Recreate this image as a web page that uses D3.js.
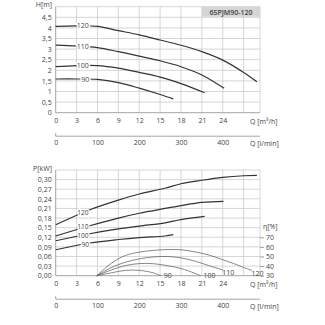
<!DOCTYPE html>
<html><head><meta charset="utf-8">
<script src="https://cdn.jsdelivr.net/npm/d3@7"></script>
<style>
body{margin:0;background:#fff}
svg{display:block}
text{font-family:"Open Sans","Liberation Sans",sans-serif;fill:#444}
</style>
</head><body>
<svg id="c" width="325" height="325"></svg>
<script>
// ---------- data ----------
const Q_TICKS = [0,3,6,9,12,15,18,21,24];
const Q_GRID = [3,6,9,12,15,18,21,24,27];
const LMIN_TICKS = [0,100,200,300,400];
const H_TICKS = [0,0.5,1,1.5,2,2.5,3,3.5,4,4.5];
const P_TICKS = [0,0.03,0.06,0.09,0.12,0.15,0.18,0.21,0.24,0.27,0.30];
const ETA_TICKS = [30,40,50,60,70];
const SPEEDS = ["90","100","110","120"];
const TITLE = "65PJM90-120";

// head curves [Q m3/h, H m]
const H90  = [[0,1.59],[3,1.59],[6,1.57],[9,1.42],[12,1.16],[15,0.86],[16.9,0.65]];
const H100 = [[0,2.17],[3,2.22],[6,2.22],[9,2.1],[12,1.9],[15,1.68],[18,1.37],[21.4,0.94]];
const H110 = [[0,3.19],[3,3.15],[6,3.07],[9,2.88],[12,2.67],[15,2.45],[18,2.17],[21,1.78],[24.2,1.15]];
const H120 = [[0,4.07],[3,4.1],[6,4.07],[9,3.87],[12,3.67],[15,3.43],[18,3.18],[21,2.88],[24,2.48],[27,1.9],[28.9,1.46]];

// power curves [Q m3/h, P kW]
const P90  = [[0,0.081],[4.9,0.102],[9,0.113],[12,0.119],[15.7,0.124],[16.9,0.128]];
const P100 = [[0,0.109],[4.9,0.131],[9,0.146],[12,0.155],[15.7,0.165],[18,0.175],[21.4,0.185]];
const P110 = [[0,0.124],[4.9,0.156],[9,0.180],[12,0.195],[15.7,0.210],[18,0.219],[21,0.229],[24.1,0.232]];
const P120 = [[0,0.159],[4.9,0.206],[9,0.236],[12,0.255],[15.7,0.273],[18,0.287],[21,0.298],[24,0.307],[27,0.312],[28.9,0.313]];

// efficiency curves [Q m3/h, eta %]
const E90  = [[5.9,30],[8,33],[10,35.5],[12,35.6],[14,33],[15.1,30]];
const E100 = [[5.9,30],[8,36],[10,40.5],[12,42.6],[14,42.5],[16,40.5],[18,37.5],[20,32.5],[20.8,30]];
const E110 = [[5.9,30],[8,38.5],[10,44],[12,47.5],[14,49.5],[16,50],[18,48.5],[20,45.2],[22,40.5],[24,36]];
const E120 = [[5.9,30],[8,43],[10,51],[12,54.5],[14,56.3],[16,57.2],[18,57],[20,54.8],[22,51.5],[24,46.6],[26,41.5],[27,38.5],[28.2,35.5]];

const H_CURVES = [H90,H100,H110,H120];
const P_CURVES = [P90,P100,P110,P120];
const E_CURVES = [E90,E100,E110,E120];

// ---------- layout ----------
const svg = d3.select("#c");
const X0 = 55.7, X1 = 260;
const x = d3.scaleLinear([0,29.35],[X0,X1]);
const xl = d3.scaleLinear([0,489.2],[X0,X1]);
const yH = d3.scaleLinear([0,5],[112.7,6.7]);
const yP = d3.scaleLinear([0,0.33],[275.7,170]);
const yE = d3.scaleLinear([30,140],[275.7,170]);

const GRID = "#cbcbcb", AXIS = "#9a9a9a", FS = 7;
const comma = d => String(+d.toFixed(2)).replace(".",",");
const fmtP = d => d.toFixed(2).replace(".",",");

function interp(pts, q){
  for(let i=1;i<pts.length;i++){
    if(q<=pts[i][0]){const a=pts[i-1],b=pts[i];return a[1]+(b[1]-a[1])*(q-a[0])/(b[0]-a[0]);}
  }
  return pts[pts.length-1][1];
}

function panel(y, yTicks, fmt, yTitle){
  const g = svg.append("g");
  const [yb, yt] = y.range();
  g.selectAll(".vg").data(Q_GRID).join("line")
    .attr("x1",d=>x(d)).attr("x2",d=>x(d)).attr("y1",yt).attr("y2",yb)
    .attr("stroke",GRID).attr("stroke-width",0.8);
  g.selectAll(".hg").data(yTicks.filter(d=>d>0)).join("line")
    .attr("x1",X0).attr("x2",X1).attr("y1",d=>y(d)).attr("y2",d=>y(d))
    .attr("stroke",GRID).attr("stroke-width",0.8);
  g.append("line").attr("x1",X0).attr("x2",X1).attr("y1",yt).attr("y2",yt).attr("stroke",GRID).attr("stroke-width",0.8);
  g.append("line").attr("x1",X1).attr("x2",X1).attr("y1",yt).attr("y2",yb).attr("stroke",GRID).attr("stroke-width",0.8);
  g.append("line").attr("x1",X0).attr("x2",X0).attr("y1",yt).attr("y2",yb).attr("stroke",AXIS).attr("stroke-width",0.9);
  g.append("line").attr("x1",X0).attr("x2",X1).attr("y1",yb).attr("y2",yb).attr("stroke",AXIS).attr("stroke-width",0.9);
  const la = g.append("g").attr("transform",`translate(${X0},0)`)
    .call(d3.axisLeft(y).tickValues(yTicks).tickSize(0).tickPadding(4).tickFormat(fmt));
  la.select(".domain").remove();
  la.selectAll("text").attr("font-size",FS).style("font-family",'"Open Sans",sans-serif').attr("fill","#444");
  g.append("text").attr("x",52).attr("y",yt).attr("dy","0.1em").attr("text-anchor","end")
    .attr("font-size",FS).text(yTitle);
  const ba = g.append("g").attr("transform",`translate(0,${yb})`)
    .call(d3.axisBottom(x).tickValues(Q_TICKS).tickSize(0).tickPadding(5.5).tickFormat(d=>d));
  ba.select(".domain").remove();
  ba.selectAll("text").attr("font-size",FS).style("font-family",'"Open Sans",sans-serif').attr("fill","#444");
  g.append("text").attr("x",250).attr("y",yb+9).attr("dy","0.35em").attr("font-size",FS).text("Q [m³/h]");
  const ly = yb + 23.5;
  g.append("line").attr("x1",X0).attr("x2",X1).attr("y1",ly).attr("y2",ly).attr("stroke",AXIS).attr("stroke-width",0.9);
  g.append("line").attr("x1",X0).attr("x2",X0).attr("y1",ly-3).attr("y2",ly).attr("stroke",AXIS).attr("stroke-width",0.9);
  const lx = g.append("g").attr("transform",`translate(0,${ly})`)
    .call(d3.axisBottom(xl).tickValues(LMIN_TICKS).tickSize(0).tickPadding(4).tickFormat(d=>d));
  lx.select(".domain").remove();
  lx.selectAll("text").attr("font-size",FS).style("font-family",'"Open Sans",sans-serif').attr("fill","#444");
  g.append("text").attr("x",250).attr("y",ly+7.5).attr("dy","0.35em").attr("font-size",FS).text("Q [l/min]");
  return g;
}

// ---------- top panel ----------
const gT = panel(yH, H_TICKS, comma, "H[m]");
gT.append("rect").attr("x",x(21)).attr("y",6.7).attr("width",X1-x(21)).attr("height",yH(4.5)-6.7-0.5)
  .attr("fill","#d6d6d6");
gT.append("text").attr("x",(x(21)+X1)/2).attr("y",(6.7+yH(4.5))/2).attr("dy","0.36em")
  .attr("text-anchor","middle").attr("font-size",7).attr("font-weight",600).attr("fill","#555").text(TITLE);

const line = y => d3.line().x(d=>x(d[0])).y(d=>y(d[1])).curve(d3.curveCatmullRom.alpha(0.5));

gT.selectAll(".hc").data(H_CURVES).join("path")
  .attr("d",line(yH)).attr("fill","none").attr("stroke","#333").attr("stroke-width",1.2);
gT.selectAll(".hl").data(H_CURVES).join("text")
  .attr("x",(d,i)=>x(i===0?4.25:3.9)).attr("y",d=>yH(interp(d,3.9))).attr("dy","0.35em")
  .attr("text-anchor","middle").attr("font-size",FS)
  .attr("stroke","#fff").attr("stroke-width",3).attr("paint-order","stroke")
  .text((d,i)=>SPEEDS[i]);

// ---------- bottom panel ----------
const gB = panel(yP, P_TICKS, fmtP, "P[kW]");
gB.selectAll(".ec").data(E_CURVES).join("path")
  .attr("d",line(yE)).attr("fill","none").attr("stroke","#555").attr("stroke-width",0.7);
gB.selectAll(".el").data(E_CURVES).join("text")
  .attr("x",d=>x(d[d.length-1][0])+ (d[d.length-1][1]>31?-0.5:3))
  .attr("y",d=>yE(d[d.length-1][1])+ (d[d.length-1][1]>31?3:0)).attr("dy","0.35em")
  .attr("text-anchor","start").attr("font-size",FS)
  .text((d,i)=>SPEEDS[i]);
gB.selectAll(".pc").data(P_CURVES).join("path")
  .attr("d",line(yP)).attr("fill","none").attr("stroke","#333").attr("stroke-width",1.2);
const pShift = [0.3,0.8,-0.8,0];
gB.selectAll(".pl").data(P_CURVES).join("text")
  .attr("x",(d,i)=>x(i===0?4.25:3.9)).attr("y",(d,i)=>yP(interp(d,3.9))+pShift[i]).attr("dy","0.33em")
  .attr("text-anchor","middle").attr("font-size",6.6)
  .attr("stroke","#fff").attr("stroke-width",2.5).attr("paint-order","stroke")
  .text((d,i)=>SPEEDS[i]);

// right efficiency axis
const ra = gB.append("g").attr("transform",`translate(${X1},0)`)
  .call(d3.axisRight(yE).tickValues(ETA_TICKS).tickSize(4).tickPadding(2).tickFormat(d=>d));
ra.select(".domain").remove();
ra.selectAll("line").attr("stroke",AXIS);
ra.selectAll("text").attr("font-size",FS).style("font-family",'"Open Sans",sans-serif').attr("fill","#444");
gB.append("text").attr("x",263).attr("y",226.7).attr("dy","0.35em").attr("font-size",FS).text("η[%]");
</script>
</body></html>
